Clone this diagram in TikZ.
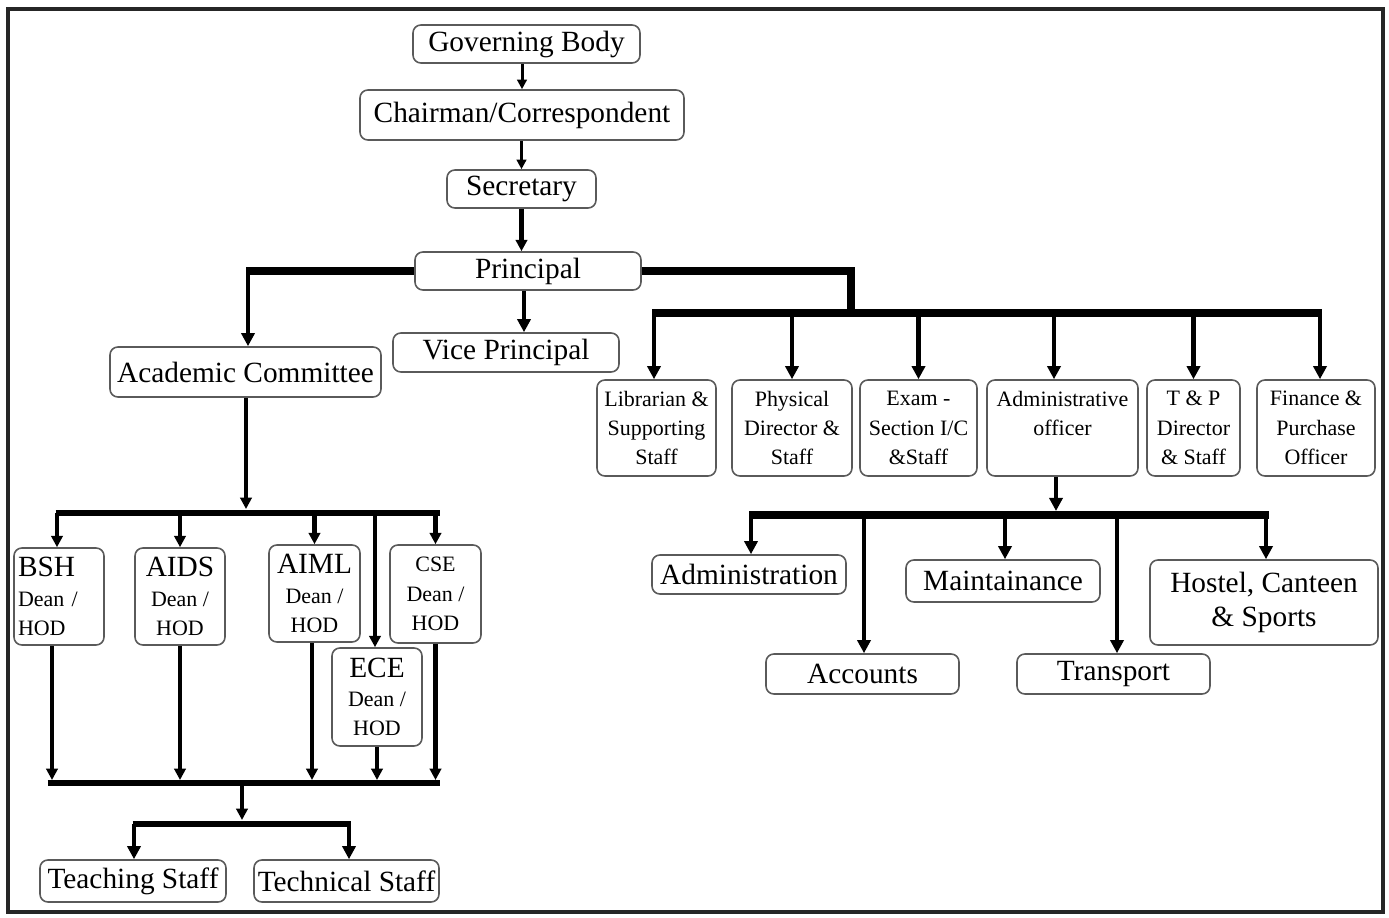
\documentclass[tikz,border=0pt]{standalone}
\usepackage{fontspec}
\setmainfont{Liberation Serif}
\usetikzlibrary{arrows.meta,calc}
\definecolor{boxgray}{HTML}{5A5A5A}
\tikzset{
  box/.style={draw=boxgray, line width=0.9pt, rounded corners=4.5pt, fill=white, inner sep=0pt, align=center, text=black},
  wh/.style 2 args={minimum width=#1*0.02cm, minimum height=#2*0.02cm},
  big/.style={font=\fontsize{16.7}{19}\selectfont},
  small/.style={font=\fontsize{12.5}{16.7}\selectfont},
  tip/.style={-{Triangle[width=#1,length=#1]}},
  thinarr/.style={line width=1.7pt, tip=5.5pt},
  midarr/.style={line width=2.3pt, tip=6.5pt},
  droparr/.style={line width=2.8pt, tip=7.5pt},
  busline/.style={line width=4pt},
  buslineb/.style={line width=3.4pt},
}
\begin{document}
\begin{tikzpicture}[x=0.02cm,y=-0.02cm]
\useasboundingbox (0,0) rectangle (1389,918);
\fill[white] (0,0) rectangle (1389,918);
\draw[line width=1.8pt, black!85] (8,9) rectangle (1383,912);

% top chain
\node[box,big,wh={227}{38}] (gov) at (526.5,44) {Governing Body};
\node[box,big,wh={324}{50}] (chair) at (522,115) {Chairman/Correspondent};
\node[box,big,wh={149}{38}] (sec) at (521.5,189) {Secretary};
\node[box,big,wh={226}{38}] (prin) at (528,271) {Principal};
\node[box,big,wh={226}{39}] (vice) at (506,352.5) {Vice Principal};
\node[box,big,wh={271}{50}] (ac) at (245.5,372) {Academic Committee};

% right row
\node[box,small,wh={119}{96}] (lib) at (656.5,428) {Librarian \&\\Supporting\\Staff};
\node[box,small,wh={120}{96}] (phys) at (792,428) {Physical\\Director \&\\Staff};
\node[box,small,wh={117}{96}] (exam) at (918.5,428) {Exam -\\Section I/C\\\&Staff};
\node[box,small,wh={151}{96}] (ao) at (1062.5,428) {Administrative\\officer\\\mbox{}};
\node[box,small,wh={93}{96}] (tp) at (1193.5,428) {T \& P\\Director\\\& Staff};
\node[box,small,wh={118}{96}] (fin) at (1316,428) {Finance \&\\Purchase\\Officer};

% admin sub
\node[box,big,wh={194}{39}] (adm) at (749,574.5) {Administration};
\node[box,big,wh={194}{42}] (mnt) at (1003,581) {Maintainance};
\node[box,big,wh={228}{85}] (hst) at (1264,602.5) {Hostel, Canteen\\\& Sports};
\node[box,big,wh={193}{40}] (acc) at (862.5,674) {Accounts};
\node[box,big,wh={193}{40}] (trn) at (1113.5,674) {Transport};

% departments
\node[box,small,wh={90}{97},text width=82*0.02cm,align=left] (bsh) at (59,596.5) {{\fontsize{16.7}{19}\selectfont BSH}\\Dean /\\HOD};
\node[box,small,wh={90}{97}] (aids) at (180,596.5) {{\fontsize{16.7}{19}\selectfont AIDS}\\Dean /\\HOD};
\node[box,small,wh={91}{97}] (aiml) at (314.5,593.5) {{\fontsize{16.7}{19}\selectfont AIML}\\Dean /\\HOD};
\node[box,small,wh={91}{98}] (cse) at (435.5,594) {CSE\\Dean /\\HOD};
\node[box,small,wh={90}{98}] (ece) at (377,697) {{\fontsize{16.7}{19}\selectfont ECE}\\Dean /\\HOD};

\node[box,big,wh={186}{42}] (ts) at (133,881) {Teaching Staff};
\node[box,big,wh={185}{42}] (tc) at (346.5,881) {Technical Staff};

% bus coordinates
\coordinate (rb) at (851,313);
\coordinate (rbl) at (654,313);
\coordinate (rbr) at (1320,313);
\coordinate (ab) at (1056,515);
\coordinate (abt) at (1056,511);
\coordinate (abl) at (751,515);
\coordinate (abr) at (1267,515);
\coordinate (lb) at (246,513);
\coordinate (lbt) at (246,509);
\coordinate (lbl) at (57,513);
\coordinate (lbr) at (438,513);
\coordinate (ub) at (242,783);
\coordinate (ubl) at (49,783);
\coordinate (ubr) at (438,783);
\coordinate (tb) at (242,824);
\coordinate (tbt) at (242,820);
\coordinate (tbl) at (134,824);
\coordinate (tbr) at (349,824);
\coordinate (pl) at (248,271);

% top chain connectors
\draw[thinarr] (gov.south -| chair.north) -- (chair.north);
\draw[thinarr] (chair.south -| sec.north) -- (sec.north);
\draw[midarr] (sec.south) -- (sec.south |- prin.north);
\draw[droparr] ([xshift=-0.08cm]prin.south) -- ([xshift=-0.08cm]prin.south |- vice.north);

% principal left / right
\draw[busline] (prin.west) -- ([xshift=-0.05cm]pl);
\draw[droparr] ([yshift=0.06cm]pl) -- (pl |- ac.north);
\draw[busline] (prin.east) -| (rb);
\draw[busline] ([xshift=-0.04cm]rbl) -- ([xshift=0.04cm]rbr);
\draw[droparr] (rbl) -- (rbl |- lib.north);
\draw[droparr] (rb -| phys.north) -- (phys.north);
\draw[droparr] (rb -| exam.north) -- (exam.north);
\draw[droparr] ([xshift=-0.17cm]rb -| ao.north) -- ([xshift=-0.17cm]ao.north);
\draw[droparr] (rb -| tp.north) -- (tp.north);
\draw[droparr] (rbr) -- (rbr |- fin.north);

% administrative officer
\draw[droparr] (ao.south -| ab) -- (abt);
\draw[busline] ([xshift=-0.04cm]abl) -- ([xshift=0.04cm]abr);
\draw[droparr] (abl) -- (abl |- adm.north);
\draw[droparr] ([xshift=0.03cm]ab -| acc.north) -- ([xshift=0.03cm]acc.north);
\draw[droparr] ([xshift=0.04cm]ab -| mnt.north) -- ([xshift=0.04cm]mnt.north);
\draw[droparr] ([xshift=0.07cm]ab -| trn.north) -- ([xshift=0.07cm]trn.north);
\draw[droparr] ([xshift=0.04cm]ab -| hst.north) -- ([xshift=0.04cm]hst.north);

% academic
\draw[midarr] (ac.south -| lb) -- (lbt);
\draw[buslineb] ([xshift=-0.03cm]lbl) -- ([xshift=0.03cm]lbr);
\draw[midarr] (lbl) -- (lbl |- bsh.north);
\draw[midarr] (lb -| aids.north) -- (aids.north);
\draw[midarr] (lb -| aiml.north) -- (aiml.north);
\draw[midarr] ([xshift=-0.04cm]lb -| ece.north) -- ([xshift=-0.04cm]ece.north);
\draw[midarr] (lb -| cse.north) -- (cse.north);

% up bus
\draw[midarr] ([xshift=-0.14cm]bsh.south) -- ([xshift=-0.14cm, yshift=0.06cm]bsh.south |- ub);
\draw[midarr] (aids.south) -- ([yshift=0.06cm]aids.south |- ub);
\draw[midarr] ([xshift=-0.05cm]aiml.south) -- ([xshift=-0.05cm, yshift=0.06cm]aiml.south |- ub);
\draw[midarr] (ece.south) -- ([yshift=0.06cm]ece.south |- ub);
\draw[midarr] (cse.south) -- ([yshift=0.06cm]cse.south |- ub);
\draw[buslineb] ([xshift=-0.03cm]ubl) -- ([xshift=0.03cm]ubr);
\draw[midarr] (ub) -- (tbt);
\draw[buslineb] ([xshift=-0.03cm]tbl) -- ([xshift=0.03cm]tbr);
\draw[droparr] (tbl) -- (tbl |- ts.north);
\draw[droparr] (tbr) -- (tbr |- tc.north);
\end{tikzpicture}
\end{document}
